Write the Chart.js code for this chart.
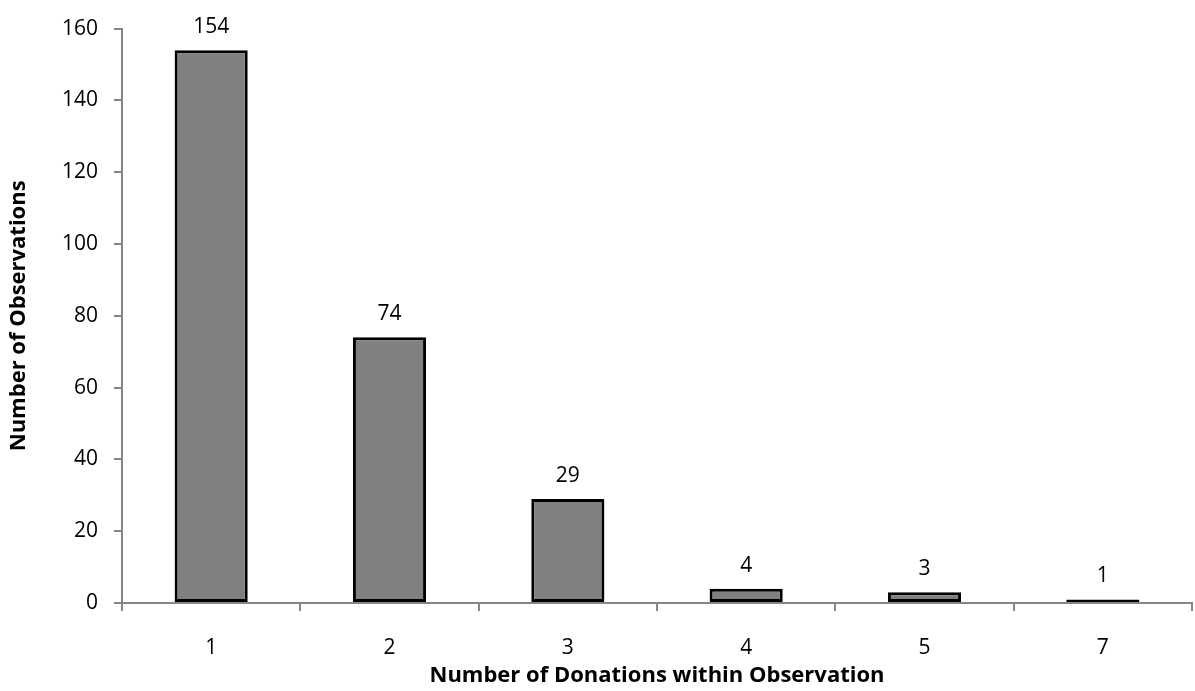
<!DOCTYPE html>
<html>
<head>
  <meta charset="UTF-8">
  <style>
    html, body { margin: 0; padding: 0; background: #fff; }
    #wrap { width: 1195px; height: 691px; }
  </style>
  <script src="https://cdn.jsdelivr.net/npm/chart.js@4.4.0/dist/chart.umd.min.js"></script>
</head>
<body>
  <div id="wrap"><canvas id="myChart" width="1195" height="691"></canvas></div>
  <script>
    // data
    const categories = ['1', '2', '3', '4', '5', '7'];
    const observations = [154, 74, 29, 4, 3, 1];
    const yTicks = [0, 20, 40, 60, 80, 100, 120, 140, 160];

    const fontFamily = "'Open Sans', 'Liberation Sans', sans-serif";
    const axisGray = '#868686';

    // value labels above each bar
    const barLabels = {
      id: 'barLabels',
      afterDatasetsDraw(chart) {
        const ctx = chart.ctx;
        const meta = chart.getDatasetMeta(0);
        ctx.save();
        ctx.fillStyle = '#000';
        ctx.font = '21px ' + fontFamily;
        ctx.textAlign = 'center';
        ctx.textBaseline = 'alphabetic';
        meta.data.forEach(function(bar, i) {
          ctx.fillText(observations[i], bar.x, bar.y - 17);
        });
        ctx.restore();
      }
    };

    const ctx = document.getElementById('myChart').getContext('2d');
    const chart = new Chart(ctx, {
      type: 'bar',
      data: {
        labels: categories,
        datasets: [{
          data: observations,
          backgroundColor: '#808080',
          borderColor: '#000',
          borderWidth: 3,
          borderSkipped: false,
          categoryPercentage: 1,
          barPercentage: 0.41
        }]
      },
      options: {
        responsive: false,
        animation: false,
        layout: { padding: { top: 28, right: 3, left: 6, bottom: 0 } },
        plugins: {
          legend: { display: false },
          tooltip: { enabled: false }
        },
        scales: {
          x: {
            offset: true,
            grid: {
              offset: true,
              drawOnChartArea: false,
              color: axisGray,
              lineWidth: 2,
              tickLength: 8
            },
            border: { color: axisGray, width: 2 },
            ticks: {
              color: '#000',
              font: { size: 21, family: fontFamily },
              padding: 24
            },
            title: {
              display: true,
              text: 'Number of Donations within Observation',
              color: '#000',
              font: { size: 22, weight: 'bold', family: fontFamily },
              padding: { top: 0, bottom: 2 }
            },
            afterFit(scale) { scale.height = 88; }
          },
          y: {
            min: 0,
            max: 160,
            afterBuildTicks(scale) {
              scale.ticks = yTicks.map(function(v) { return { value: v }; });
            },
            grid: {
              drawOnChartArea: false,
              color: axisGray,
              lineWidth: 2,
              tickLength: 8
            },
            border: { color: axisGray, width: 2 },
            ticks: {
              color: '#000',
              font: { size: 21, family: fontFamily },
              padding: 16
            },
            title: {
              display: true,
              text: 'Number of Observations',
              color: '#000',
              font: { size: 22, weight: 'bold', family: fontFamily },
              padding: { top: 0, bottom: 0 }
            },
            afterFit(scale) { scale.width = 116; }
          }
        }
      },
      plugins: [barLabels]
    });
  </script>
</body>
</html>
